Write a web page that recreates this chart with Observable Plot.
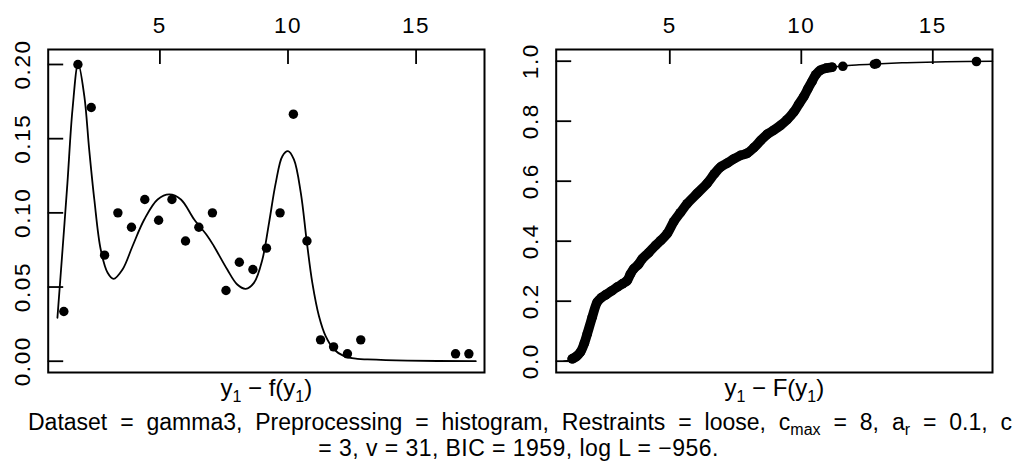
<!DOCTYPE html>
<html><head><meta charset="utf-8">
<script src="https://cdn.jsdelivr.net/npm/d3@7"></script>
<script src="https://cdn.jsdelivr.net/npm/@observablehq/plot@0.6"></script>
<style>
body{margin:0;background:#fff;}
#wrap{position:relative;width:1023px;height:466px;font-family:"Liberation Sans",Arial,sans-serif;color:#000;}
#left{position:absolute;left:0;top:0;}
#right{position:absolute;left:512px;top:0;}
.cap{position:absolute;font-size:23px;line-height:23px;white-space:nowrap;}
#cap1{left:28px;top:411px;width:984px;text-align:justify;text-align-last:justify;}
#cap2{left:7px;top:437px;width:1023px;text-align:center;letter-spacing:0.45px;}
.cap sub{font-size:16px;vertical-align:-5px;line-height:0;}
</style></head><body>
<div id="wrap"><div id="left"></div><div id="right"></div>
<div class="cap" id="cap1">Dataset = gamma3, Preprocessing = histogram, Restraints = loose, c<sub>max</sub> = 8, a<sub>r</sub> = 0.1, c</div>
<div class="cap" id="cap2">= 3, v = 31, BIC = 1959, log L = &minus;956.</div></div>
<script>
// Left panel: histogram-based empirical density (points) and fitted mixture density (line)
const binX = [1.25, 1.80, 2.32, 2.84, 3.36, 3.89, 4.41, 4.95, 5.47, 6.00, 6.52, 7.05, 7.58, 8.10, 8.63, 9.16, 9.69, 10.21, 10.74, 11.27, 11.78, 12.32, 12.84, 16.54, 17.06];
const binDensity = [0.0335, 0.200, 0.171, 0.0715, 0.100, 0.0903, 0.109, 0.095, 0.109, 0.081, 0.0903, 0.100, 0.0477, 0.0667, 0.0618, 0.0762, 0.100, 0.1665, 0.081, 0.0144, 0.0097, 0.005, 0.0144, 0.005, 0.005];
const fitX = [1.00, 1.20, 1.39, 1.59, 1.81, 2.05, 2.24, 2.44, 2.69, 2.96, 3.19, 3.54, 3.93, 4.39, 4.91, 5.37, 5.82, 6.34, 6.86, 7.11, 7.63, 8.02, 8.35, 8.67, 9.00, 9.26, 9.52, 9.78, 10.00, 10.23, 10.50, 10.73, 10.95, 11.21, 11.47, 11.80, 12.19, 12.71, 13.10, 14.66, 17.33];
const fitDensity = [0.0293, 0.0753, 0.120, 0.170, 0.2005, 0.1787, 0.1427, 0.109, 0.0753, 0.0596, 0.0555, 0.0618, 0.0775, 0.0955, 0.109, 0.1124, 0.109, 0.0955, 0.0843, 0.0775, 0.0618, 0.0517, 0.0488, 0.0528, 0.0686, 0.0933, 0.120, 0.1382, 0.1416, 0.136, 0.1135, 0.081, 0.0528, 0.0303, 0.0169, 0.0079, 0.0034, 0.0016, 0.0012, 0.0004, 0.0];

// Right panel: empirical CDF (points) and fitted CDF (line)
const ecdfX = [1.29, 1.45, 1.60, 1.75, 1.86, 2.05, 2.24, 2.40, 2.56, 2.80, 3.00, 3.20, 3.38, 3.50, 3.63, 3.80, 3.95, 4.20, 4.46, 4.65, 4.90, 5.15, 5.40, 5.66, 6.05, 6.42, 6.70, 6.93, 7.18, 7.45, 7.69, 7.94, 8.20, 8.45, 8.70, 8.95, 9.21, 9.46, 9.71, 9.90, 10.10, 10.25, 10.41, 10.55, 10.73, 10.95, 11.17];
const ecdfY = [0.008, 0.016, 0.030, 0.060, 0.091, 0.147, 0.197, 0.212, 0.221, 0.235, 0.247, 0.258, 0.269, 0.290, 0.308, 0.322, 0.341, 0.362, 0.386, 0.402, 0.425, 0.465, 0.495, 0.525, 0.560, 0.593, 0.625, 0.647, 0.660, 0.675, 0.686, 0.693, 0.712, 0.735, 0.756, 0.770, 0.786, 0.805, 0.830, 0.856, 0.883, 0.908, 0.933, 0.955, 0.970, 0.977, 0.980];
const tailX = [11.58, 12.78, 12.86, 16.66];
const tailY = [0.983, 0.990, 0.992, 0.999];
const cdfX = [0.97, 1.29, 1.60, 1.86, 2.05, 2.24, 2.56, 3.00, 3.38, 3.95, 4.46, 4.90, 5.40, 6.05, 6.70, 7.45, 8.20, 8.95, 9.71, 10.10, 10.41, 10.73, 11.17, 11.58, 12.20, 12.82, 14.00, 15.50, 17.27];
const cdfY = [0.0, 0.006, 0.028, 0.088, 0.145, 0.195, 0.220, 0.246, 0.268, 0.340, 0.385, 0.424, 0.494, 0.559, 0.624, 0.674, 0.711, 0.769, 0.829, 0.882, 0.932, 0.968, 0.979, 0.984, 0.988, 0.991, 0.995, 0.998, 1.0];

// Axis ticks
const xTicks = [5, 10, 15];
const densityTicks = [0, 0.05, 0.10, 0.15, 0.20];
const densityTickLabels = ["0.00", "0.05", "0.10", "0.15", "0.20"];
const cdfTicks = [0, 0.2, 0.4, 0.6, 0.8, 1.0];
const cdfTickLabels = ["0.0", "0.2", "0.4", "0.6", "0.8", "1.0"];

const FONT = "Liberation Sans, Arial, sans-serif";
const FS = 22.5;

function subscriptLabel(svg, plain, parts) {
  d3.select(svg).selectAll("text").filter(function(){ return this.textContent === plain; }).each(function(){
    const t = d3.select(this);
    t.text(null);
    let shifted = false;
    for (const [s, sub] of parts) {
      const ts = t.append("tspan").text(s);
      if (sub) { ts.attr("font-size", 16).attr("dy", 6); shifted = true; }
      else if (shifted) { ts.attr("dy", -6); shifted = false; }
    }
  });
}

function panel({width, mL, mR, xDomain, yDomain, yTicks, yTickLabels, marks, label, labelParts}) {
  const height = 400, mT = 49, mB = 28;
  const innerW = width - mL - mR, innerH = height - mT - mB;
  const svg = Plot.plot({
    width, height,
    marginLeft: mL, marginRight: mR, marginTop: mT, marginBottom: mB,
    style: {fontFamily: FONT, fontSize: FS + "px", color: "#000", background: "#fff", overflow: "visible"},
    x: {domain: xDomain},
    y: {domain: yDomain},
    marks: [
      Plot.axisX(xTicks, {anchor: "top", label: null, tickSize: 0, tickPadding: 16.3, fontSize: FS, fill: "#000"}),
      Plot.axisY(yTicks, {anchor: "left", label: null, tickSize: 0, tickPadding: 18.2, tickRotate: -90, fontSize: FS, fill: "#000",
        tickFormat: (d) => yTickLabels[yTicks.indexOf(d)]}),
      Plot.tickX(xTicks, {x: (d) => d, insetBottom: innerH - 15, stroke: "#000", strokeWidth: 1.8}),
      Plot.tickY(yTicks, {y: (d) => d, insetRight: innerW - 15.5, stroke: "#000", strokeWidth: 1.8}),
      ...marks,
      Plot.frame({stroke: "#000", strokeWidth: 2}),
      Plot.text([label], {text: (d) => d, frameAnchor: "bottom", dy: 23, lineAnchor: "bottom", fontSize: 24, fill: "#000"})
    ]
  });
  // R's Helvetica tick labels run a little wider than Liberation Sans
  d3.select(svg).selectAll("g[aria-label='x-axis tick label'], g[aria-label='y-axis tick label']")
    .attr("letter-spacing", "1.6px");
  subscriptLabel(svg, label, labelParts);
  return svg;
}

const left = panel({
  width: 512, mL: 47.7, mR: 28,
  xDomain: [0.64, 17.67], yDomain: [-0.0076, 0.2101],
  yTicks: densityTicks, yTickLabels: densityTickLabels,
  marks: [
    Plot.line(fitX.map((x, i) => ({x, y: fitDensity[i]})), {x: "x", y: "y", stroke: "#000", strokeWidth: 1.8, curve: "catmull-rom"}),
    Plot.dot(binX.map((x, i) => ({x, y: binDensity[i]})), {x: "x", y: "y", r: 4.7, fill: "#000", stroke: "none"})
  ],
  label: "y1 \u2212 f(y1)",
  labelParts: [["y", false], ["1", true], [" \u2212 f(y", false], ["1", true], [")", false]]
});
document.getElementById("left").appendChild(left);

const right = panel({
  width: 511, mL: 43.7, mR: 31,
  xDomain: [0.68, 17.27], yDomain: [-0.0377, 1.039],
  yTicks: cdfTicks, yTickLabels: cdfTickLabels,
  marks: [
    Plot.line(ecdfX.map((x, i) => ({x, y: ecdfY[i]})), {x: "x", y: "y", stroke: "#000", strokeWidth: 9.6, strokeLinecap: "round", strokeLinejoin: "round", curve: "catmull-rom"}),
    Plot.dot(ecdfX.map((x, i) => ({x, y: ecdfY[i]})), {x: "x", y: "y", r: 4.8, fill: "#000", stroke: "none"}),
    Plot.line(cdfX.map((x, i) => ({x, y: cdfY[i]})), {x: "x", y: "y", stroke: "#000", strokeWidth: 1.5, curve: "catmull-rom"}),
    Plot.dot(tailX.map((x, i) => ({x, y: tailY[i]})), {x: "x", y: "y", r: 4.8, fill: "#000", stroke: "none"})
  ],
  label: "y1 \u2212 F(y1)",
  labelParts: [["y", false], ["1", true], [" \u2212 F(y", false], ["1", true], [")", false]]
});
document.getElementById("right").appendChild(right);
</script>
</body></html>
